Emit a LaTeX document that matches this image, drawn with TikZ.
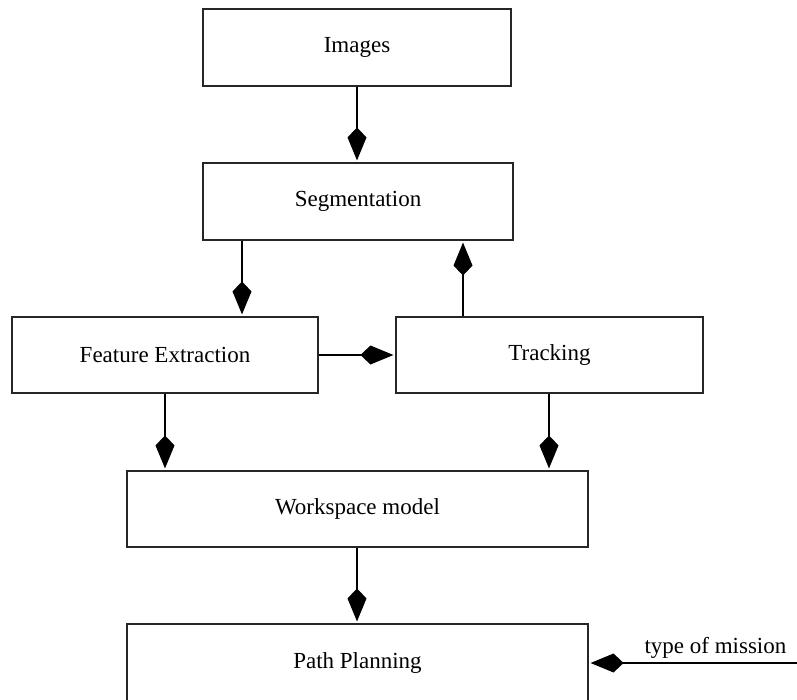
\documentclass[tikz,border=0pt]{standalone}
\usepackage{fontspec}
\setmainfont{Liberation Serif}
\usetikzlibrary{arrows.meta}
\begin{document}
\begin{tikzpicture}[x=1pt,y=-1pt,
  blk/.style={draw=black!85,line width=1.1pt,rectangle,inner sep=0pt,
    font=\fontsize{23}{27}\selectfont},
  flow/.style={line width=1.4pt,-{Kite[length=33pt,width=19pt,inset=10pt]},shorten >=2pt}]
\useasboundingbox (0,0) rectangle (797,700);
\fill[white] (0,0) rectangle (797,700);
\node[blk,minimum width=308pt,minimum height=77pt] (img) at (357,47.5) {Images};
\node[blk,minimum width=310pt,minimum height=77pt] (seg) at (358,201.5) {Segmentation};
\node[blk,minimum width=306pt,minimum height=76pt] (fe) at (165,355) {Feature Extraction};
\node[blk,minimum width=307pt,minimum height=76pt] (tr) at (549.5,355) {Tracking};
\node[blk,minimum width=461pt,minimum height=76pt] (ws) at (357.5,509) {Workspace model};
\node[blk,minimum width=461pt,minimum height=77pt] (pp) at (357.5,662.5) {Path Planning};
\coordinate (mis) at (800,663);
\draw[flow] (img.south -| 357,0) -- (seg.north -| 357,0);
\draw[flow] (seg.south -| 242,0) -- (fe.north -| 242,0);
\draw[flow] (tr.north -| 463,0) -- (seg.south -| 463,0);
\draw[flow] (fe.east) -- (tr.west);
\draw[flow] (fe.south) -- (ws.north -| fe.south);
\draw[flow] (tr.south -| 549,0) -- (ws.north -| 549,0);
\draw[flow] (ws.south -| 357,0) -- (pp.north -| 357,0);
\draw[flow] (mis) -- (pp.east |- mis) node[pos=0.4,above=1pt,font=\fontsize{23}{27}\selectfont] (lbl) {type of mission};
\end{tikzpicture}
\end{document}
